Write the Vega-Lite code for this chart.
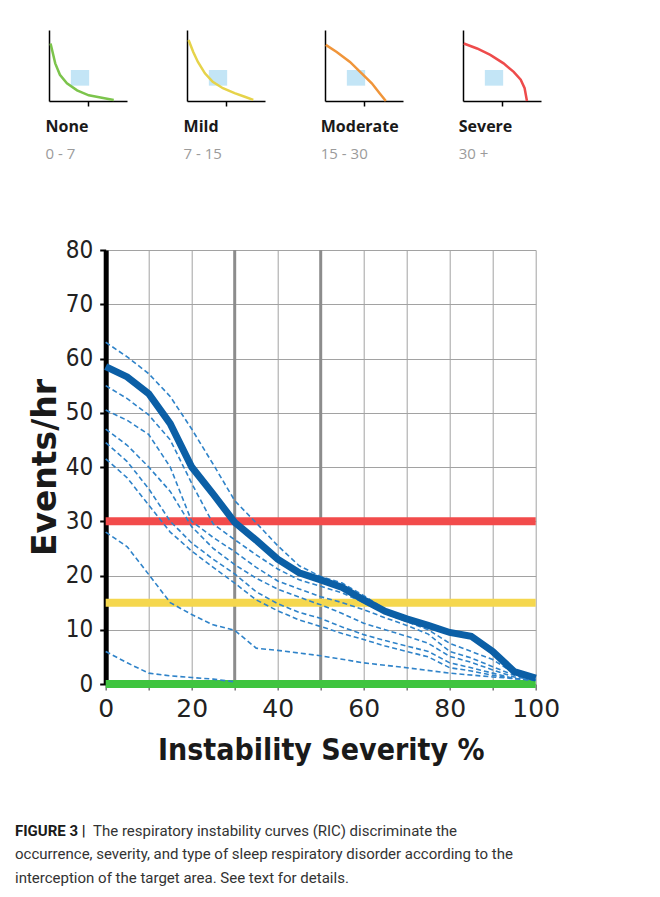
{
  "$schema": "https://vega.github.io/schema/vega-lite/v6.json",
  "background": "white",
  "padding": {"left": 15, "top": 30, "right": 5, "bottom": 5},
  "bounds": "full",
  "spacing": 47,
  "config": {"view": {"stroke": null}},
  "datasets": {
    "icons": [
      {"level": "None", "x": 0.02, "y": 0.81}, {"level": "None", "x": 0.08, "y": 0.53}, {"level": "None", "x": 0.14, "y": 0.37}, {"level": "None", "x": 0.23, "y": 0.25}, {"level": "None", "x": 0.36, "y": 0.15}, {"level": "None", "x": 0.51, "y": 0.08}, {"level": "None", "x": 0.66, "y": 0.05}, {"level": "None", "x": 0.83, "y": 0.015},
      {"level": "Mild", "x": 0.02, "y": 0.86}, {"level": "Mild", "x": 0.08, "y": 0.69}, {"level": "Mild", "x": 0.14, "y": 0.55}, {"level": "Mild", "x": 0.23, "y": 0.39}, {"level": "Mild", "x": 0.33, "y": 0.27}, {"level": "Mild", "x": 0.46, "y": 0.18}, {"level": "Mild", "x": 0.61, "y": 0.11}, {"level": "Mild", "x": 0.74, "y": 0.06}, {"level": "Mild", "x": 0.85, "y": 0.015},
      {"level": "Moderate", "x": 0.01, "y": 0.79}, {"level": "Moderate", "x": 0.15, "y": 0.69}, {"level": "Moderate", "x": 0.32, "y": 0.55}, {"level": "Moderate", "x": 0.47, "y": 0.39}, {"level": "Moderate", "x": 0.6, "y": 0.25}, {"level": "Moderate", "x": 0.7, "y": 0.11}, {"level": "Moderate", "x": 0.78, "y": 0.0},
      {"level": "Severe", "x": 0.01, "y": 0.81}, {"level": "Severe", "x": 0.18, "y": 0.74}, {"level": "Severe", "x": 0.35, "y": 0.65}, {"level": "Severe", "x": 0.52, "y": 0.53}, {"level": "Severe", "x": 0.65, "y": 0.41}, {"level": "Severe", "x": 0.74, "y": 0.3}, {"level": "Severe", "x": 0.79, "y": 0.18}, {"level": "Severe", "x": 0.82, "y": 0.0}
    ],
    "target": [{"x1": 0.28, "x2": 0.515, "y1": 0.216, "y2": 0.437}],
    "refs": [{"x": 30}, {"x": 50}],
    "thresholds": [{"y": 30, "category": "Severe"}, {"y": 15, "category": "Mild"}, {"y": 0, "category": "None"}],
    "curves": [
      {"curve": "main", "x": 0, "y": 58.5}, {"curve": "main", "x": 5, "y": 56.6}, {"curve": "main", "x": 10, "y": 53.5}, {"curve": "main", "x": 15, "y": 48}, {"curve": "main", "x": 20, "y": 40}, {"curve": "main", "x": 25, "y": 35}, {"curve": "main", "x": 30, "y": 29.8}, {"curve": "main", "x": 35, "y": 26.5}, {"curve": "main", "x": 40, "y": 23}, {"curve": "main", "x": 45, "y": 20.5}, {"curve": "main", "x": 50, "y": 19.2}, {"curve": "main", "x": 55, "y": 17.8}, {"curve": "main", "x": 60, "y": 15.5}, {"curve": "main", "x": 65, "y": 13.4}, {"curve": "main", "x": 70, "y": 12}, {"curve": "main", "x": 75, "y": 10.8}, {"curve": "main", "x": 80, "y": 9.5}, {"curve": "main", "x": 85, "y": 8.8}, {"curve": "main", "x": 90, "y": 6}, {"curve": "main", "x": 95, "y": 2.3}, {"curve": "main", "x": 100, "y": 1.1},
      {"curve": "c1", "x": 0, "y": 63}, {"curve": "c1", "x": 5, "y": 60.3}, {"curve": "c1", "x": 10, "y": 57.2}, {"curve": "c1", "x": 15, "y": 53}, {"curve": "c1", "x": 20, "y": 47}, {"curve": "c1", "x": 25, "y": 40.5}, {"curve": "c1", "x": 30, "y": 33.8}, {"curve": "c1", "x": 35, "y": 29.7}, {"curve": "c1", "x": 40, "y": 25.5}, {"curve": "c1", "x": 45, "y": 21.8}, {"curve": "c1", "x": 50, "y": 19.8}, {"curve": "c1", "x": 55, "y": 18.6}, {"curve": "c1", "x": 60, "y": 16.3}, {"curve": "c1", "x": 65, "y": 13.8}, {"curve": "c1", "x": 70, "y": 12.2}, {"curve": "c1", "x": 75, "y": 10.9}, {"curve": "c1", "x": 80, "y": 9.6}, {"curve": "c1", "x": 85, "y": 8.4}, {"curve": "c1", "x": 90, "y": 5.5}, {"curve": "c1", "x": 95, "y": 2}, {"curve": "c1", "x": 100, "y": 0.8},
      {"curve": "c2", "x": 0, "y": 55}, {"curve": "c2", "x": 5, "y": 52.6}, {"curve": "c2", "x": 10, "y": 49.6}, {"curve": "c2", "x": 15, "y": 45}, {"curve": "c2", "x": 20, "y": 37}, {"curve": "c2", "x": 25, "y": 29.5}, {"curve": "c2", "x": 30, "y": 26.6}, {"curve": "c2", "x": 35, "y": 23.8}, {"curve": "c2", "x": 40, "y": 21.2}, {"curve": "c2", "x": 45, "y": 19.2}, {"curve": "c2", "x": 50, "y": 18}, {"curve": "c2", "x": 55, "y": 16.8}, {"curve": "c2", "x": 60, "y": 15}, {"curve": "c2", "x": 65, "y": 13}, {"curve": "c2", "x": 70, "y": 11.5}, {"curve": "c2", "x": 75, "y": 10}, {"curve": "c2", "x": 80, "y": 7.5}, {"curve": "c2", "x": 85, "y": 6}, {"curve": "c2", "x": 90, "y": 4.5}, {"curve": "c2", "x": 95, "y": 2}, {"curve": "c2", "x": 100, "y": 0.8},
      {"curve": "c3", "x": 0, "y": 50.5}, {"curve": "c3", "x": 5, "y": 48.6}, {"curve": "c3", "x": 10, "y": 46}, {"curve": "c3", "x": 15, "y": 40}, {"curve": "c3", "x": 20, "y": 30}, {"curve": "c3", "x": 25, "y": 27}, {"curve": "c3", "x": 30, "y": 24.4}, {"curve": "c3", "x": 35, "y": 21.5}, {"curve": "c3", "x": 40, "y": 19}, {"curve": "c3", "x": 45, "y": 17.5}, {"curve": "c3", "x": 50, "y": 16.1}, {"curve": "c3", "x": 55, "y": 15}, {"curve": "c3", "x": 60, "y": 13.7}, {"curve": "c3", "x": 65, "y": 12.2}, {"curve": "c3", "x": 70, "y": 10.8}, {"curve": "c3", "x": 75, "y": 9.2}, {"curve": "c3", "x": 80, "y": 6}, {"curve": "c3", "x": 85, "y": 4.8}, {"curve": "c3", "x": 90, "y": 3.2}, {"curve": "c3", "x": 95, "y": 1.6}, {"curve": "c3", "x": 100, "y": 0.8},
      {"curve": "c4", "x": 0, "y": 47}, {"curve": "c4", "x": 5, "y": 44}, {"curve": "c4", "x": 10, "y": 40}, {"curve": "c4", "x": 15, "y": 35.5}, {"curve": "c4", "x": 20, "y": 29}, {"curve": "c4", "x": 25, "y": 25}, {"curve": "c4", "x": 30, "y": 22}, {"curve": "c4", "x": 35, "y": 19.5}, {"curve": "c4", "x": 40, "y": 17.5}, {"curve": "c4", "x": 45, "y": 16}, {"curve": "c4", "x": 50, "y": 14.6}, {"curve": "c4", "x": 55, "y": 13}, {"curve": "c4", "x": 60, "y": 11.2}, {"curve": "c4", "x": 65, "y": 10}, {"curve": "c4", "x": 70, "y": 8.8}, {"curve": "c4", "x": 75, "y": 7.5}, {"curve": "c4", "x": 80, "y": 5.1}, {"curve": "c4", "x": 85, "y": 4}, {"curve": "c4", "x": 90, "y": 2.6}, {"curve": "c4", "x": 95, "y": 1.3}, {"curve": "c4", "x": 100, "y": 0.8},
      {"curve": "c5", "x": 0, "y": 44.5}, {"curve": "c5", "x": 5, "y": 41}, {"curve": "c5", "x": 10, "y": 36}, {"curve": "c5", "x": 15, "y": 30}, {"curve": "c5", "x": 20, "y": 26}, {"curve": "c5", "x": 25, "y": 23}, {"curve": "c5", "x": 30, "y": 20.3}, {"curve": "c5", "x": 35, "y": 17}, {"curve": "c5", "x": 40, "y": 14.8}, {"curve": "c5", "x": 45, "y": 13.2}, {"curve": "c5", "x": 50, "y": 12.1}, {"curve": "c5", "x": 55, "y": 10.5}, {"curve": "c5", "x": 60, "y": 9.1}, {"curve": "c5", "x": 65, "y": 8}, {"curve": "c5", "x": 70, "y": 7}, {"curve": "c5", "x": 75, "y": 6}, {"curve": "c5", "x": 80, "y": 3.9}, {"curve": "c5", "x": 85, "y": 3}, {"curve": "c5", "x": 90, "y": 2}, {"curve": "c5", "x": 95, "y": 1}, {"curve": "c5", "x": 100, "y": 0.7},
      {"curve": "c6", "x": 0, "y": 41.5}, {"curve": "c6", "x": 5, "y": 38}, {"curve": "c6", "x": 10, "y": 33}, {"curve": "c6", "x": 15, "y": 28}, {"curve": "c6", "x": 20, "y": 24.5}, {"curve": "c6", "x": 25, "y": 21.5}, {"curve": "c6", "x": 30, "y": 18.6}, {"curve": "c6", "x": 35, "y": 15.5}, {"curve": "c6", "x": 40, "y": 13.5}, {"curve": "c6", "x": 45, "y": 11.8}, {"curve": "c6", "x": 50, "y": 10.6}, {"curve": "c6", "x": 55, "y": 9.3}, {"curve": "c6", "x": 60, "y": 8.2}, {"curve": "c6", "x": 65, "y": 7}, {"curve": "c6", "x": 70, "y": 6}, {"curve": "c6", "x": 75, "y": 5}, {"curve": "c6", "x": 80, "y": 3}, {"curve": "c6", "x": 85, "y": 2.4}, {"curve": "c6", "x": 90, "y": 1.6}, {"curve": "c6", "x": 95, "y": 1}, {"curve": "c6", "x": 100, "y": 0.7},
      {"curve": "c7", "x": 0, "y": 28}, {"curve": "c7", "x": 5, "y": 25.3}, {"curve": "c7", "x": 10, "y": 20.2}, {"curve": "c7", "x": 15, "y": 15}, {"curve": "c7", "x": 20, "y": 12.8}, {"curve": "c7", "x": 25, "y": 10.9}, {"curve": "c7", "x": 30, "y": 9.9}, {"curve": "c7", "x": 35, "y": 6.6}, {"curve": "c7", "x": 40, "y": 6.2}, {"curve": "c7", "x": 50, "y": 5.2}, {"curve": "c7", "x": 60, "y": 3.9}, {"curve": "c7", "x": 70, "y": 3}, {"curve": "c7", "x": 80, "y": 2}, {"curve": "c7", "x": 90, "y": 1.3}, {"curve": "c7", "x": 100, "y": 0.7},
      {"curve": "c8", "x": 0, "y": 6}, {"curve": "c8", "x": 5, "y": 3.9}, {"curve": "c8", "x": 10, "y": 2}, {"curve": "c8", "x": 15, "y": 1.5}, {"curve": "c8", "x": 20, "y": 1.2}, {"curve": "c8", "x": 25, "y": 0.9}, {"curve": "c8", "x": 30, "y": 0.4}
    ],
    "caption": [
      {"line": 1, "part": "label", "text": "FIGURE 3 |"},
      {"line": 1, "part": "body", "text": "The respiratory instability curves (RIC) discriminate the"},
      {"line": 2, "part": "body", "text": "occurrence, severity, and type of sleep respiratory disorder according to the"},
      {"line": 3, "part": "body", "text": "interception of the target area. See text for details."}
    ]
  },
  "vconcat": [
    {
      "bounds": "full",
      "spacing": 76,
      "vconcat": [
        {
          "bounds": "flush",
          "spacing": 33,
          "hconcat": [
            {"width": 1, "height": 1, "data": {"values": []}, "mark": "point"},
            {
              "bounds": "flush",
              "spacing": 60,
              "hconcat": [
                {
                  "width": 78, "height": 71,
                  "title": {"text": "None", "subtitle": "0 - 7", "orient": "bottom", "anchor": "start", "font": "Open Sans", "fontSize": 16, "fontWeight": "bold", "color": "#1a1a1a", "subtitleFont": "Open Sans", "subtitleFontSize": 15, "subtitleColor": "#9b9b9b", "offset": 12, "subtitlePadding": 12},
                  "layer": [
                    {"data": {"name": "target"}, "mark": {"type": "rect", "color": "#c3e5f6"}, "encoding": {"x": {"field": "x1", "type": "quantitative", "scale": {"domain": [0, 1]}, "axis": {"title": null, "labels": false, "grid": false, "domainColor": "#000", "domainWidth": 1.5, "values": [0.5], "tickColor": "#000", "tickSize": 5, "tickWidth": 1.5}}, "x2": {"field": "x2"}, "y": {"field": "y1", "type": "quantitative", "scale": {"domain": [0, 1]}, "axis": {"title": null, "labels": false, "grid": false, "ticks": false, "domainColor": "#000", "domainWidth": 1.5}}, "y2": {"field": "y2"}}},
                    {"data": {"name": "icons"}, "transform": [{"filter": "datum.level === 'None'"}], "mark": {"type": "line", "color": "#7cc44c", "strokeWidth": 2.5}, "encoding": {"x": {"field": "x", "type": "quantitative", "scale": {"domain": [0, 1]}}, "y": {"field": "y", "type": "quantitative", "scale": {"domain": [0, 1]}}}}
                  ]
                },
                {
                  "width": 78, "height": 71,
                  "title": {"text": "Mild", "subtitle": "7 - 15", "orient": "bottom", "anchor": "start", "font": "Open Sans", "fontSize": 16, "fontWeight": "bold", "color": "#1a1a1a", "subtitleFont": "Open Sans", "subtitleFontSize": 15, "subtitleColor": "#9b9b9b", "offset": 12, "subtitlePadding": 12},
                  "layer": [
                    {"data": {"name": "target"}, "mark": {"type": "rect", "color": "#c3e5f6"}, "encoding": {"x": {"field": "x1", "type": "quantitative", "scale": {"domain": [0, 1]}, "axis": {"title": null, "labels": false, "grid": false, "domainColor": "#000", "domainWidth": 1.5, "values": [0.5], "tickColor": "#000", "tickSize": 5, "tickWidth": 1.5}}, "x2": {"field": "x2"}, "y": {"field": "y1", "type": "quantitative", "scale": {"domain": [0, 1]}, "axis": {"title": null, "labels": false, "grid": false, "ticks": false, "domainColor": "#000", "domainWidth": 1.5}}, "y2": {"field": "y2"}}},
                    {"data": {"name": "icons"}, "transform": [{"filter": "datum.level === 'Mild'"}], "mark": {"type": "line", "color": "#e6d34a", "strokeWidth": 2.5}, "encoding": {"x": {"field": "x", "type": "quantitative", "scale": {"domain": [0, 1]}}, "y": {"field": "y", "type": "quantitative", "scale": {"domain": [0, 1]}}}}
                  ]
                },
                {
                  "width": 78, "height": 71,
                  "title": {"text": "Moderate", "subtitle": "15 - 30", "orient": "bottom", "anchor": "start", "font": "Open Sans", "fontSize": 16, "fontWeight": "bold", "color": "#1a1a1a", "subtitleFont": "Open Sans", "subtitleFontSize": 15, "subtitleColor": "#9b9b9b", "offset": 12, "subtitlePadding": 12},
                  "layer": [
                    {"data": {"name": "target"}, "mark": {"type": "rect", "color": "#c3e5f6"}, "encoding": {"x": {"field": "x1", "type": "quantitative", "scale": {"domain": [0, 1]}, "axis": {"title": null, "labels": false, "grid": false, "domainColor": "#000", "domainWidth": 1.5, "values": [0.5], "tickColor": "#000", "tickSize": 5, "tickWidth": 1.5}}, "x2": {"field": "x2"}, "y": {"field": "y1", "type": "quantitative", "scale": {"domain": [0, 1]}, "axis": {"title": null, "labels": false, "grid": false, "ticks": false, "domainColor": "#000", "domainWidth": 1.5}}, "y2": {"field": "y2"}}},
                    {"data": {"name": "icons"}, "transform": [{"filter": "datum.level === 'Moderate'"}], "mark": {"type": "line", "color": "#f0953a", "strokeWidth": 2.5}, "encoding": {"x": {"field": "x", "type": "quantitative", "scale": {"domain": [0, 1]}}, "y": {"field": "y", "type": "quantitative", "scale": {"domain": [0, 1]}}}}
                  ]
                },
                {
                  "width": 78, "height": 71,
                  "title": {"text": "Severe", "subtitle": "30 +", "orient": "bottom", "anchor": "start", "font": "Open Sans", "fontSize": 16, "fontWeight": "bold", "color": "#1a1a1a", "subtitleFont": "Open Sans", "subtitleFontSize": 15, "subtitleColor": "#9b9b9b", "offset": 12, "subtitlePadding": 12},
                  "layer": [
                    {"data": {"name": "target"}, "mark": {"type": "rect", "color": "#c3e5f6"}, "encoding": {"x": {"field": "x1", "type": "quantitative", "scale": {"domain": [0, 1]}, "axis": {"title": null, "labels": false, "grid": false, "domainColor": "#000", "domainWidth": 1.5, "values": [0.5], "tickColor": "#000", "tickSize": 5, "tickWidth": 1.5}}, "x2": {"field": "x2"}, "y": {"field": "y1", "type": "quantitative", "scale": {"domain": [0, 1]}, "axis": {"title": null, "labels": false, "grid": false, "ticks": false, "domainColor": "#000", "domainWidth": 1.5}}, "y2": {"field": "y2"}}},
                    {"data": {"name": "icons"}, "transform": [{"filter": "datum.level === 'Severe'"}], "mark": {"type": "line", "color": "#ee4b4b", "strokeWidth": 2.5}, "encoding": {"x": {"field": "x", "type": "quantitative", "scale": {"domain": [0, 1]}}, "y": {"field": "y", "type": "quantitative", "scale": {"domain": [0, 1]}}}}
                  ]
                }
              ]
            }
          ]
        },
        {
          "bounds": "flush",
          "spacing": 89.7,
          "hconcat": [
            {"width": 1, "height": 1, "data": {"values": []}, "mark": "point"},
            {
              "width": 430, "height": 434,
              "layer": [
                {"data": {"name": "refs"}, "mark": {"type": "rule", "color": "#8c8c8c", "strokeWidth": 3}, "encoding": {"x": {"field": "x", "type": "quantitative", "scale": {"domain": [0, 100]}, "axis": {"values": [0,5,10,15,20,25,30,35,40,45,50,55,60,65,70,75,80,85,90,95,100], "labelExpr": "datum.value % 20 === 0 ? datum.label : ''", "title": "Instability Severity %", "grid": true, "gridColor": {"condition": {"test": "datum.value % 10 === 0", "value": "#a2a2a2"}, "value": "#c6c6c6"}, "gridWidth": 1, "domain": false, "tickColor": "#777", "tickSize": 6, "tickWidth": 1.5, "labelFont": "DejaVu Sans", "labelFontSize": 25, "labelColor": "#222", "labelPadding": 6, "labelFlush": false, "labelOverlap": false, "titleFont": "DejaVu Sans Condensed", "titleFontWeight": "bold", "titleFontSize": 30, "titleColor": "#1a1a1a", "titlePadding": 14}}}},
                {"data": {"name": "thresholds"}, "mark": {"type": "rule", "strokeWidth": 8}, "encoding": {"y": {"field": "y", "type": "quantitative", "scale": {"domain": [0, 80]}, "axis": {"values": [0,5,10,15,20,25,30,35,40,45,50,55,60,65,70,75,80], "labelExpr": "datum.value % 10 === 0 ? datum.label : ''", "title": "Events/hr", "grid": true, "gridColor": {"condition": {"test": "datum.value % 10 === 0", "value": "#a2a2a2"}, "value": "#c6c6c6"}, "gridWidth": 1, "domain": true, "domainColor": "#000", "domainWidth": 5, "tickColor": "#000", "tickSize": 6, "tickWidth": 2, "labelFont": "DejaVu Sans Condensed", "labelFontSize": 24, "labelColor": "#222", "labelPadding": 7, "labelFlush": false, "labelOverlap": false, "titleFont": "DejaVu Sans", "titleFontWeight": "bold", "titleFontSize": 33, "titleColor": "#1a1a1a", "titlePadding": 3}}, "color": {"field": "category", "type": "nominal", "scale": {"domain": ["Severe", "Mild", "None"], "range": ["#f24b4b", "#f5d74e", "#3fc43f"]}, "legend": null}}},
                {"data": {"name": "curves"}, "transform": [{"filter": "datum.curve !== 'main'"}], "mark": {"type": "line", "color": "#2f83c9", "strokeWidth": 1.6, "strokeDash": [5, 3]}, "encoding": {"x": {"field": "x", "type": "quantitative"}, "y": {"field": "y", "type": "quantitative"}, "detail": {"field": "curve", "type": "nominal"}}},
                {"data": {"name": "curves"}, "transform": [{"filter": "datum.curve === 'main'"}], "mark": {"type": "line", "color": "#0b5fa6", "strokeWidth": 7}, "encoding": {"x": {"field": "x", "type": "quantitative"}, "y": {"field": "y", "type": "quantitative"}}}
              ]
            }
          ]
        }
      ]
    },
    {
      "width": 620, "height": 70.5,
      "data": {"name": "caption"},
      "layer": [
        {"transform": [{"filter": "datum.part === 'label'"}], "mark": {"type": "text", "align": "left", "baseline": "alphabetic", "font": "Roboto", "fontSize": 15, "fontWeight": "bold", "color": "#1a1a1a"}, "encoding": {"x": {"datum": 0, "type": "quantitative", "scale": {"domain": [0, 1]}, "axis": null}, "y": {"field": "line", "type": "quantitative", "scale": {"domain": [0, 3], "reverse": true}, "axis": null}, "text": {"field": "text"}}},
        {"transform": [{"filter": "datum.part === 'body' && datum.line === 1"}], "mark": {"type": "text", "align": "left", "baseline": "alphabetic", "font": "Roboto", "fontSize": 15, "color": "#333", "dx": 78}, "encoding": {"x": {"datum": 0, "type": "quantitative"}, "y": {"field": "line", "type": "quantitative"}, "text": {"field": "text"}}},
        {"transform": [{"filter": "datum.part === 'body' && datum.line > 1"}], "mark": {"type": "text", "align": "left", "baseline": "alphabetic", "font": "Roboto", "fontSize": 15, "color": "#333"}, "encoding": {"x": {"datum": 0, "type": "quantitative"}, "y": {"field": "line", "type": "quantitative"}, "text": {"field": "text"}}}
      ]
    }
  ]
}
